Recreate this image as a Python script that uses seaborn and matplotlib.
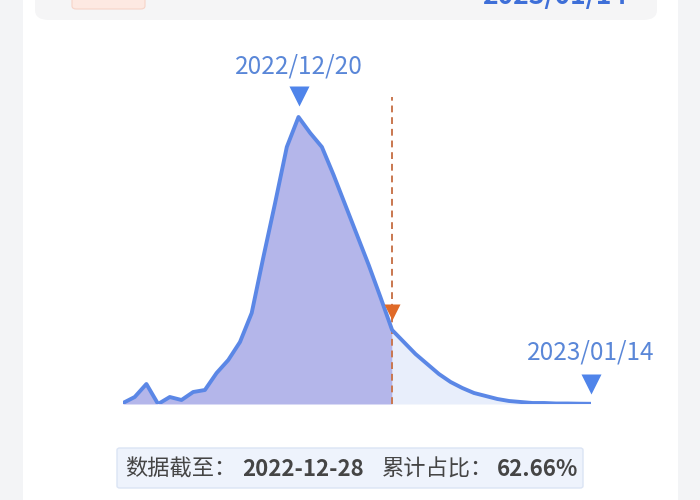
import numpy as np
import pandas as pd
import matplotlib.pyplot as plt
from matplotlib.patches import FancyBboxPatch, Rectangle
import seaborn as sns

sns.set_style("white")
plt.rcParams['font.family'] = ['Noto Sans CJK SC', 'DejaVu Sans']

# daily values (arbitrary units)
dates = pd.date_range("2022-12-05", "2023-01-14", freq="D")
values = [1, 7, 20, 0, 7, 4, 12, 14, 31, 44,
          62, 91, 147, 201, 257, 287, 271, 257, 229, 199,
          169, 139, 107, 74, 62, 50, 40, 30, 22, 16,
          11, 8, 5, 3, 2, 1, 1, 0.5, 0.5, 0.3, 0.2]
peak_label = "2022/12/20"
cut_label = "2022-12-28"
end_label = "2023/01/14"
share_label = "62.66%"

df = pd.DataFrame({"date": dates, "value": values})
peak_date = pd.Timestamp("2022-12-20")
cut_date = pd.Timestamp("2022-12-28")
end_date = pd.Timestamp("2023-01-14")

line_c = "#5b87e6"
text_c = "#5a87d8"

fig = plt.figure(figsize=(7, 5), dpi=100, facecolor="#f3f4f6")
# white card
fig.patches.append(Rectangle((23 / 700, 0), 655 / 700, 1, transform=fig.transFigure,
                             facecolor="white", edgecolor="none", zorder=-3))
# header box (cut off at top)
fig.patches.append(FancyBboxPatch((35 / 700, 0.96), 622 / 700, 0.1,
                                  boxstyle="round,pad=0,rounding_size=0.02",
                                  transform=fig.transFigure, facecolor="#f5f5f6",
                                  edgecolor="none", zorder=-2))
fig.patches.append(FancyBboxPatch((72 / 700, 0.982), 73 / 700, 0.05,
                                  boxstyle="round,pad=0,rounding_size=0.006",
                                  transform=fig.transFigure, facecolor="#fde9e2",
                                  edgecolor="#f6d4c8", lw=0.8, zorder=-1))
fig.text(627 / 700, 1 - 4 / 500, end_label, ha="right", va="baseline",
         fontsize=19, fontweight="bold", color="#3e6fd8")

ax = fig.add_axes([123 / 700, 96 / 500, 468 / 700, 0.6])
ax.patch.set_visible(False)
sns.lineplot(data=df, x="date", y="value", ax=ax, color=line_c, lw=2.8,
             zorder=4)
left = df["date"] <= cut_date
right = df["date"] >= cut_date
ax.fill_between(df["date"][left], 0, df["value"][left], color="#b4b6ea", lw=0, zorder=2)
ax.fill_between(df["date"][right], 0, df["value"][right], color="#e8eefb", lw=0, zorder=2)

ax.set_xlim(dates[0], dates[-1])
ax.set_ylim(0, 300)
ax.axis("off")

peak_val = df.loc[df["date"] == peak_date, "value"].iloc[0]
cut_val = df.loc[df["date"] == cut_date, "value"].iloc[0]

ax.vlines(cut_date, 0, 307, colors="#c9774f", linestyles=(0, (3.5, 2.5)), lw=1.4,
          zorder=3, clip_on=False)

ax.plot([peak_date], [peak_val + 21], marker="v", ms=14, color="#4f84ea",
        mec="none", clip_on=False, zorder=5)
ax.text(peak_date, peak_val + 50, peak_label, ha="center", va="center",
        fontsize=17.5, color=text_c)

ax.plot([cut_date], [cut_val + 18], marker="v", ms=12, color="#e06a28",
        mec="none", clip_on=False, zorder=5)

ax.plot([end_date], [20], marker="v", ms=14, color="#4f84ea",
        mec="none", clip_on=False, zorder=5)
ax.text(end_date, 51, end_label, ha="center", va="center",
        fontsize=17.5, color=text_c)

# bottom info box
fig.patches.append(FancyBboxPatch((117 / 700, 12 / 500), 466 / 700, 40 / 500,
                                  boxstyle="round,pad=0,rounding_size=0.004",
                                  transform=fig.transFigure, facecolor="#eef3fc",
                                  edgecolor="#dbe4f4", lw=1, zorder=-1))
ty = 31 / 500
dark = "#454545"
fig.text(125 / 700, ty, "数据截至：", ha="left", va="center",
         fontsize=16, color=dark)
fig.text(242 / 700, ty, cut_label, ha="left", va="center",
         fontsize=16, fontweight="bold", color=dark)
fig.text(382 / 700, ty, "累计占比：", ha="left", va="center",
         fontsize=16, color=dark)
fig.text(497 / 700, ty, share_label, ha="left", va="center",
         fontsize=16, fontweight="bold", color=dark)

fig.savefig("out.png", dpi=100, facecolor=fig.get_facecolor())
